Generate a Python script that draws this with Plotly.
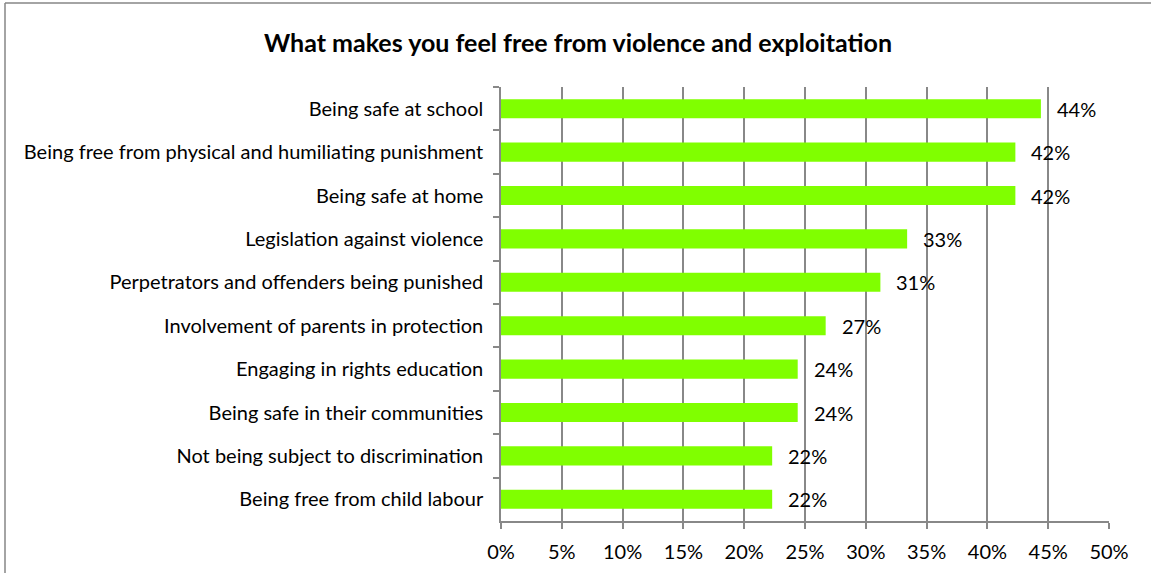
import plotly.graph_objects as go

categories = [
    "Being safe at school",
    "Being free from physical and humiliating punishment",
    "Being safe at home",
    "Legislation against violence",
    "Perpetrators and offenders being punished",
    "Involvement of parents in protection",
    "Engaging in rights education",
    "Being safe in their communities",
    "Not being subject to discrimination",
    "Being free from child labour",
]
values = [0.444, 0.423, 0.423, 0.334, 0.312, 0.267, 0.244, 0.244, 0.223, 0.223]
tick_vals = [0, 0.05, 0.10, 0.15, 0.20, 0.25, 0.30, 0.35, 0.40, 0.45, 0.50]
tick_text = ["0%", "5%", "10%", "15%", "20%", "25%", "30%", "35%", "40%", "45%", "50%"]
title_text = "What makes you feel free from violence and exploitation"

FONT = "Lato"
GRID = "#888888"
LABEL_SIZE = 20

W, H = 1151, 573
L, R, T, B = 501, 42, 87, 52
pw, ph = W - L - R, H - T - B

fig = go.Figure()
fig.add_trace(go.Bar(
    x=values, y=categories, orientation="h",
    marker=dict(color="#80FF00", line=dict(width=0)),
    width=0.44, hoverinfo="x+y",
))

for c, v in zip(categories, values):
    fig.add_annotation(
        x=v, y=c, xref="x", yref="y", text=f"{round(v*100):d}%",
        showarrow=False, xanchor="left", xshift=14,
        font=dict(family=FONT, size=LABEL_SIZE, color="black"),
    )

# chart border (top and left edges)
bx = (5 - L) / pw
by = 1 + (T - 3) / ph
fig.add_shape(type="line", xref="paper", yref="paper", x0=bx, x1=(W - L) / pw + 0.01,
              y0=by, y1=by, line=dict(color="#868686", width=1.5))
fig.add_shape(type="line", xref="paper", yref="paper", x0=bx, x1=bx,
              y0=by, y1=-B / ph - 0.01, line=dict(color="#868686", width=1.5))

fig.update_layout(
    width=W, height=H,
    margin=dict(l=L, r=R, t=T, b=B, autoexpand=False),
    paper_bgcolor="white", plot_bgcolor="white",
    showlegend=False,
    title=dict(text=f"<b>{title_text}</b>", xref="container", x=578 / W, xanchor="center",
               y=1 - 43 / H, yanchor="middle",
               font=dict(family=FONT, size=25, color="black")),
    font=dict(family=FONT, size=LABEL_SIZE, color="black"),
)

fig.update_xaxes(
    range=[0, 0.5], tickvals=tick_vals, ticktext=tick_text,
    showgrid=True, gridcolor=GRID, gridwidth=1.5,
    showline=True, linecolor=GRID, linewidth=1.5,
    ticks="outside", ticklen=6, tickcolor=GRID, tickwidth=1.5,
    zeroline=False, ticklabelstandoff=6,
    tickfont=dict(family=FONT, size=LABEL_SIZE, color="black"),
    fixedrange=True,
)
fig.update_yaxes(
    autorange="reversed", categoryorder="array", categoryarray=categories,
    showgrid=False, showline=True, linecolor=GRID, linewidth=1.5,
    ticks="outside", ticklen=6, tickcolor=GRID, tickwidth=1.5,
    tickson="boundaries", ticklabelstandoff=12,
    tickfont=dict(family=FONT, size=LABEL_SIZE, color="black"),
    fixedrange=True,
)

fig.write_html(
    "out.html",
    config={"displayModeBar": False},
    post_script="document.body.style.margin='0';document.body.style.overflow='hidden';",
)
